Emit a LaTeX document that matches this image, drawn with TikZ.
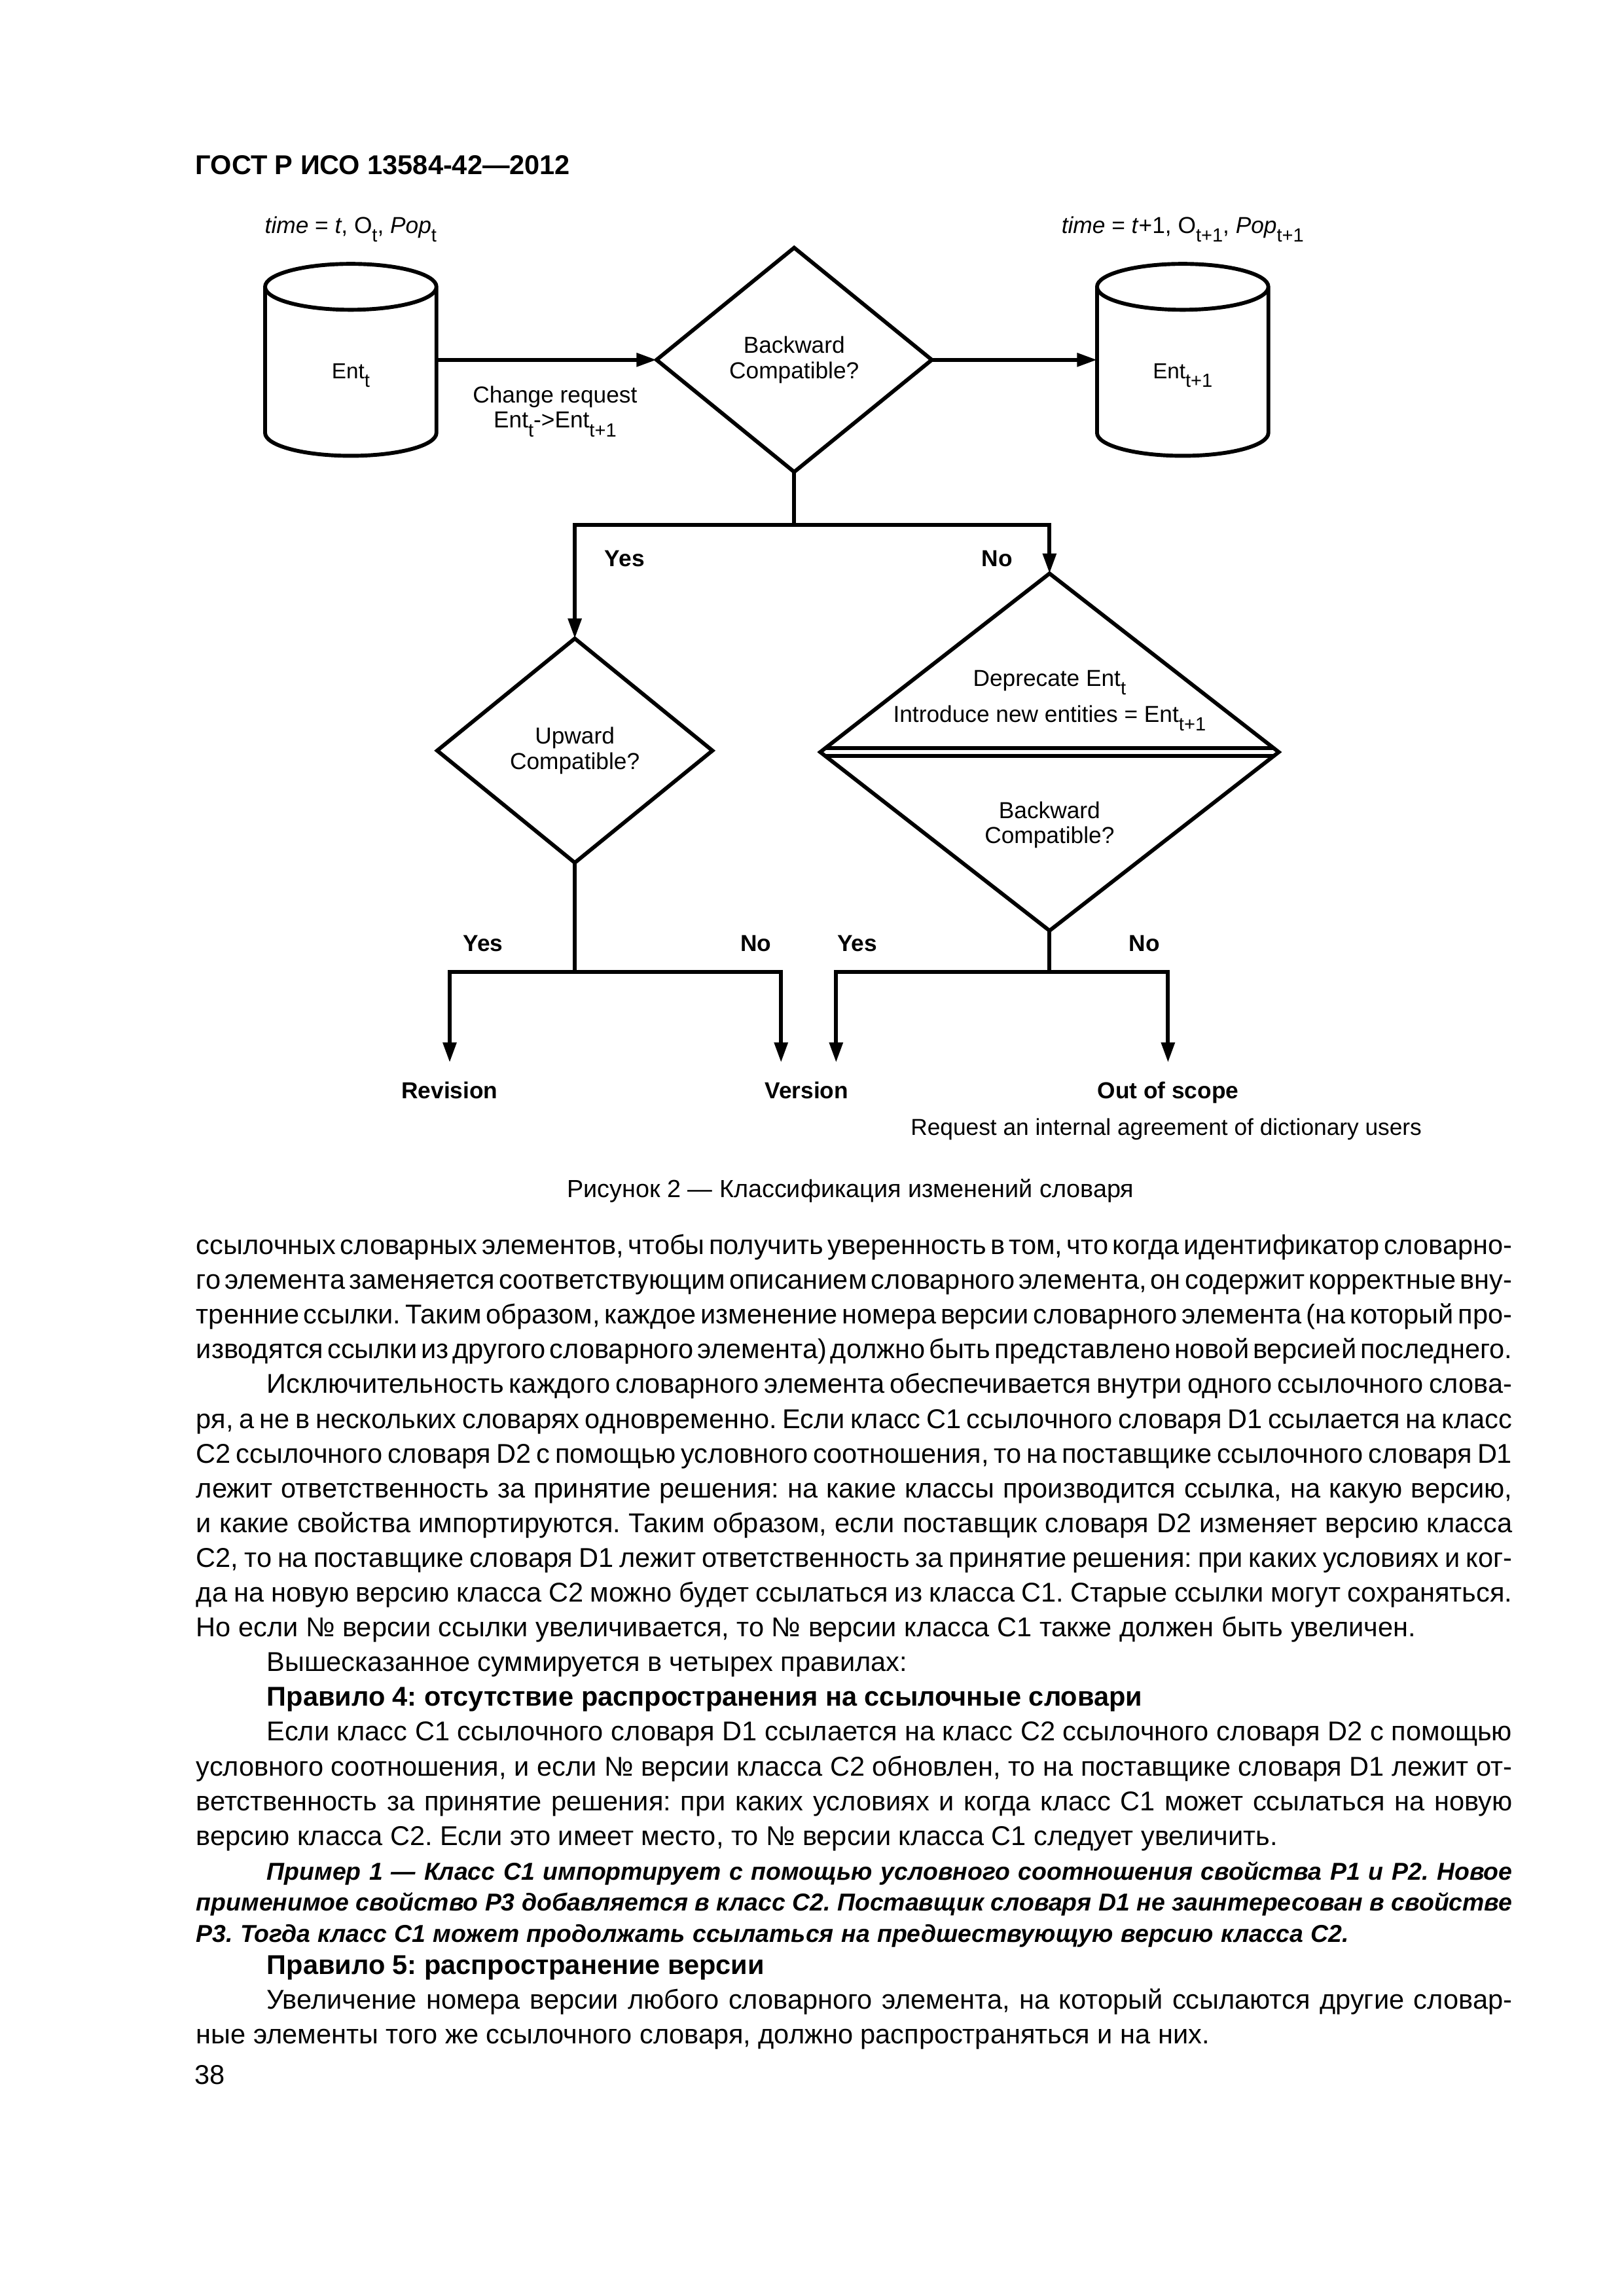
\documentclass[tikz,border=0pt]{standalone}
\usepackage{fontspec}
\setmainfont{Liberation Sans}
\usetikzlibrary{shapes,arrows.meta,calc}
\frenchspacing
\tikzstyle{store} = [rectangle, inner sep=0pt, outer sep=0pt,
    minimum width=22.16mm, minimum height=24.83mm,
    text height=4.84mm, text depth=0pt, font=\fontsize{8}{9}\selectfont]
\tikzstyle{can} = [draw, line width=0.5mm]
\tikzstyle{decision} = [diamond, draw, line width=0.5mm, aspect=1.22,
    inner sep=0pt, outer sep=0pt, minimum width=35.6mm, minimum height=29mm, align=center]
\tikzstyle{answer} = [inner sep=0pt, font=\fontsize{8.5}{9.2}\selectfont\bfseries]
\tikzstyle{leaf} = [inner xsep=0pt, inner ysep=2.4mm, text height=2.2mm, text depth=0.6mm,
    font=\fontsize{8.5}{9.2}\selectfont\bfseries]
\tikzstyle{line} = [draw, line width=0.5mm, -{Triangle[length=2.6mm, width=1.7mm]}]
\tikzstyle{bodytext} = [inner sep=0pt, font=\fontsize{10}{12.79}\selectfont]

\newcommand\sub[1]{\raisebox{-0.38em}{\fontsize{7}{8}\selectfont#1}}
\newcommand\justline[1]{\hbox to\hsize{\strut#1}}
\newcommand\justfirst[1]{\hbox to\hsize{\strut\hskip9.14mm#1}}
\newcommand\tailline[1]{\hbox{\strut#1}}
\newcommand\tailfirst[1]{\hbox{\strut\hskip9.14mm#1}}

\begin{document}
\begin{tikzpicture}[x=0.19039mm, y=-0.19039mm, font=\fontsize{8.5}{9.2}\selectfont]
    \useasboundingbox (0,0) rectangle (1103,1560);
    % Page head
    \node [anchor=base west, inner sep=0pt, font=\fontsize{10}{12}\selectfont\bfseries] (head) at (132.5,118.6) {ГОСТ Р ИСО 13584-42—2012};
    % Place nodes
    \node [store] (entA) at (238.3,244.5) {Ent\sub{t}};
    \node [decision, right of=entA, node distance=57.35mm] (bc) {Backward\\Compatible?};
    \node [store, right of=entA, node distance=107.6mm] (entB) {Ent\sub{t+1}};
    \node [decision] (up) at (390.5,510) {Upward\\Compatible?};
    \node [decision, minimum width=59.3mm, minimum height=46.2mm] (dep) at (713,511) {};
    \node [align=center] (deptext) at ($(dep.center)+(0,6.66mm)$) {Deprecate Ent\sub{t}\\[2.8pt]Introduce new entities = Ent\sub{t+1}};
    \node [align=center] (depask) at ($(dep.center)+(0,-9.42mm)$) {Backward\\Compatible?};
    \node [leaf, anchor=base] (rev) at (305.5,746.4) {Revision};
    \node [leaf, anchor=base] (ver) at (548,746.4) {Version};
    \node [leaf, anchor=base] (oos) at (793.5,746.4) {Out of scope};
    \node [anchor=base] (req) at ($(oos.base)+(-0.23mm,-4.78mm)$) {Request an internal agreement of dictionary users};
    \node [anchor=base] (timeA) at ($(entA.north)+(0,3.95mm)$) {\textit{time} = \textit{t}, O\sub{t}, \textit{Pop}\sub{t}};
    \node [anchor=base] (timeB) at ($(entB.north)+(0,3.95mm)$) {\textit{time} = \textit{t}+1, O\sub{t+1}, \textit{Pop}\sub{t+1}};
    % Cylinders and the double line
    \foreach \n in {entA,entB}
        \draw [can] ([yshift=-2.97mm]\n.north west) -- ([yshift=2.97mm]\n.south west)
            arc [start angle=180, end angle=360, x radius=11.08mm, y radius=2.97mm]
            -- ([yshift=-2.97mm]\n.north east)
            arc [start angle=0, end angle=360, x radius=11.08mm, y radius=2.97mm];
    \draw [can] ($(dep.west)!0.0216!(dep.north)$) -- ($(dep.east)!0.0216!(dep.north)$);
    \draw [can] ($(dep.west)!0.0216!(dep.south)$) -- ($(dep.east)!0.0216!(dep.south)$);
    % Draw edges
    \path [line] (entA.east) -- node [midway, below=2mm, xshift=1.1mm, align=center] (chg) {Change request\\Ent\sub{t}->Ent\sub{t+1}} (bc.west);
    \path [line] (bc.east) -- (entB.west);
    \coordinate (split1) at ($(bc.south)+(0,-6.85mm)$);
    \coordinate (split2) at ($(up.south)+(0,-14.09mm)$);
    \coordinate (split3) at ($(dep.south)+(0,-5.31mm)$);
    \path [line] (bc.south) -- (split1) -| (up.north);
    \path [line] (split1) -| (dep.north);
    \path [line] (up.south) -- (split2) -| (rev.north);
    \path [line] (split2) -| ([xshift=-3.31mm]ver.north);
    \path [line] (dep.south) -- (split3) -| ([xshift=3.81mm]ver.north);
    \path [line] (split3) -| (oos.north);
    % Answers
    \node [answer, anchor=base west] (yesA) at ($(split1 -| up.north)+(3.8mm,-5.4mm)$) {Yes};
    \node [answer, anchor=base east] (noA) at ($(split1 -| dep.north)+(-4.72mm,-5.4mm)$) {No};
    \node [answer, anchor=base west] (yesB) at ($(split2 -| rev.north)+(1.66mm,2.67mm)$) {Yes};
    \node [answer, anchor=base east] (noB) at ($(split2 -| ver.north)+(-4.51mm,2.67mm)$) {No};
    \node [answer, anchor=base west] (yesC) at ($(split3 -| ver.north)+(3.89mm,2.67mm)$) {Yes};
    \node [answer, anchor=base east] (noC) at ($(split3 -| oos.north)+(-1mm,2.67mm)$) {No};
    % Caption and text
    \node [anchor=base, inner sep=0pt, font=\fontsize{9.1}{11}\selectfont] (cap) at (577.8,813.5) {Рисунок 2 — Классификация изменений словаря};
    \node [bodytext, anchor=north west] (body) at (133,835.4) {\vbox{\hsize=170.2mm
\spaceskip=0.278em plus 0.3em minus 0.22em
\justline{ссылочных словарных элементов, чтобы получить уверенность в том, что когда идентификатор словарно-}
\justline{го элемента заменяется соответствующим описанием словарного элемента, он содержит корректные вну-}
\justline{тренние ссылки. Таким образом, каждое изменение номера версии словарного элемента (на который про-}
\justline{изводятся ссылки из другого словарного элемента) должно быть представлено новой версией последнего.}
\justfirst{Исключительность каждого словарного элемента обеспечивается внутри одного ссылочного слова-}
\justline{ря, а не в нескольких словарях одновременно. Если класс C1 ссылочного словаря D1 ссылается на класс}
\justline{C2 ссылочного словаря D2 с помощью условного соотношения, то на поставщике ссылочного словаря D1}
\justline{лежит ответственность за принятие решения: на какие классы производится ссылка, на какую версию,}
\justline{и какие свойства импортируются. Таким образом, если поставщик словаря D2 изменяет версию класса}
\justline{C2, то на поставщике словаря D1 лежит ответственность за принятие решения: при каких условиях и ког-}
\justline{да на новую версию класса C2 можно будет ссылаться из класса C1. Старые ссылки могут сохраняться.}
\tailline{Но если № версии ссылки увеличивается, то № версии класса C1 также должен быть увеличен.}
\tailfirst{Вышесказанное суммируется в четырех правилах:}
\tailfirst{\bfseries Правило 4: отсутствие распространения на ссылочные словари}
\justfirst{Если класс C1 ссылочного словаря D1 ссылается на класс C2 ссылочного словаря D2 с помощью}
\justline{условного соотношения, и если № версии класса C2 обновлен, то на поставщике словаря D1 лежит от-}
\justline{ветственность за принятие решения: при каких условиях и когда класс C1 может ссылаться на новую}
\tailline{версию класса C2. Если это имеет место, то № версии класса C1 следует увеличить.}
\fontsize{9}{11.4}\selectfont\bfseries\itshape
\justfirst{Пример 1 — Класс C1 импортирует с помощью условного соотношения свойства P1 и P2. Новое}
\justline{применимое свойство P3 добавляется в класс C2. Поставщик словаря D1 не заинтересован в свойстве}
\tailline{P3. Тогда класс C1 может продолжать ссылаться на предшествующую версию класса C2.}
\fontsize{10}{12.79}\selectfont\mdseries\upshape\vskip-1pt
\tailfirst{\bfseries Правило 5: распространение версии}
\justfirst{Увеличение номера версии любого словарного элемента, на который ссылаются другие словар-}
\tailline{ные элементы того же ссылочного словаря, должно распространяться и на них.}
}};
    \node [bodytext, anchor=base west] (pnum) at (132,1416) {38};
\end{tikzpicture}
\end{document}
